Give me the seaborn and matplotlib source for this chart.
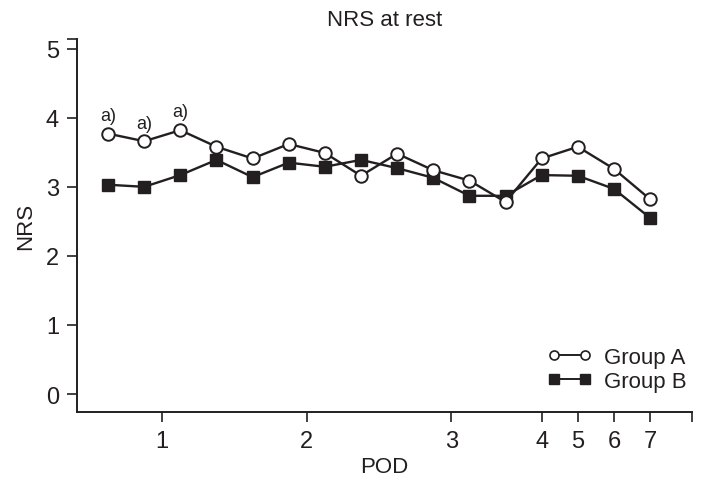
import matplotlib
matplotlib.use("Agg")
import matplotlib.pyplot as plt
from matplotlib.lines import Line2D
import numpy as np
import pandas as pd
import seaborn as sns

# NRS at rest, 16 time points (4 per day on POD 1-3, then one per day)
group_a = [3.77, 3.66, 3.82, 3.58, 3.41, 3.62, 3.49, 3.16,
           3.48, 3.24, 3.09, 2.78, 3.41, 3.58, 3.26, 2.82]
group_b = [3.03, 3.00, 3.17, 3.39, 3.14, 3.35, 3.29, 3.39,
           3.27, 3.13, 2.87, 2.87, 3.17, 3.16, 2.97, 2.55]
significant = [0, 1, 2]  # points marked "a)"

pod_labels = ['1', '2', '3', '4', '5', '6', '7']
pod_tick_pos = [1.5, 5.5, 9.5, 12, 13, 14, 15]
y_ticks = [0, 1, 2, 3, 4, 5]

ink = '#231f20'

df = pd.DataFrame({
    'x': list(range(len(group_a))) * 2,
    'NRS': group_a + group_b,
    'group': ['Group A'] * len(group_a) + ['Group B'] * len(group_b),
})

sns.set_style('ticks')
plt.rcParams['font.family'] = ['Liberation Sans', 'DejaVu Sans']

fig = plt.figure(figsize=(7.02, 4.85), dpi=100)
ax = fig.add_axes([77 / 702, 1 - 413 / 485, 615 / 702, 373 / 485])

sns.lineplot(
    data=df[df['group'] == 'Group A'], x='x', y='NRS', ax=ax,
    color=ink, linewidth=1.7, marker='o', markersize=9,
    markerfacecolor='white', markeredgecolor=ink, markeredgewidth=1.4,
    legend=False, zorder=3,
)
sns.lineplot(
    data=df[df['group'] == 'Group B'], x='x', y='NRS', ax=ax,
    color=ink, linewidth=1.7, marker='s', markersize=8,
    markerfacecolor=ink, markeredgecolor=ink, markeredgewidth=1,
    legend=False, zorder=2,
)

for i in significant:
    ax.annotate('a)', (i, group_a[i]), xytext=(0, 7), textcoords='offset points',
                ha='center', va='bottom', fontsize=13, color=ink)

ax.set_xlim(-0.86, 16.16)
ax.set_ylim(-0.26, 5.14)
ax.set_xticks(pod_tick_pos)
ax.set_xticklabels(pod_labels)
ax.set_yticks(y_ticks)
# end ticks at the axis limits, as in the original
ax.set_xticks([16.16], minor=True)
ax.set_yticks([5.14], minor=True)
ax.tick_params(axis='both', which='both', direction='out', length=7, width=1.2,
               color=ink, labelsize=17, labelcolor=ink, pad=6)

for side in ['top', 'right']:
    ax.spines[side].set_visible(False)
for side in ['left', 'bottom']:
    ax.spines[side].set_linewidth(1.4)
    ax.spines[side].set_color(ink)

ax.set_xlabel('POD', fontsize=16, color=ink, labelpad=3)
ax.set_ylabel('NRS', fontsize=16, color=ink, labelpad=7)
ax.set_title('NRS at rest', fontsize=16, color=ink, pad=10)

handles = [
    Line2D([], [], color=ink, linewidth=1.4, marker='o', markersize=6.5,
           markerfacecolor='white', markeredgecolor=ink, markeredgewidth=1.2),
    Line2D([], [], color=ink, linewidth=1.4, marker='s', markersize=6.5,
           markerfacecolor=ink, markeredgecolor=ink),
]
ax.legend(handles, ['Group A', 'Group B'], loc='lower right',
          bbox_to_anchor=(1.005, 0.03), frameon=False, numpoints=2,
          fontsize=16, handlelength=2.0, handletextpad=0.55,
          labelspacing=0.12, borderaxespad=0, labelcolor=ink)

plt.savefig('out.png', dpi=100)
